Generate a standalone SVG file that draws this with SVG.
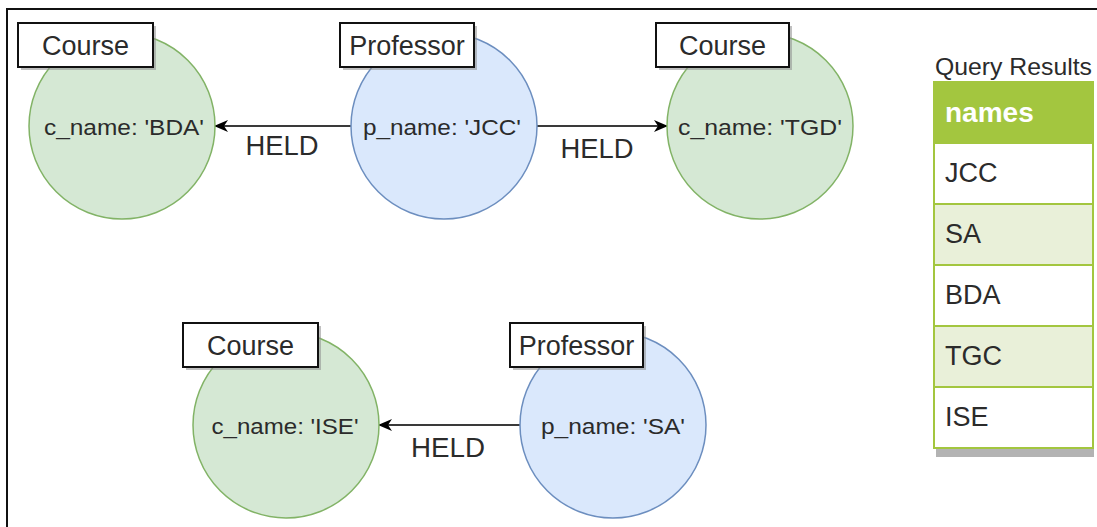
<svg xmlns="http://www.w3.org/2000/svg" width="1097" height="527" viewBox="0 0 1097 527">
  <style>
    text { font-family: "Liberation Sans", Arial, sans-serif; fill: #2b2b2b; }
    .course { fill: #d5e8d4; stroke: #82b366; stroke-width: 1.5; }
    .prof { fill: #dae8fc; stroke: #6c8ebf; stroke-width: 1.5; }
    .tag { fill: #ffffff; stroke: #111; stroke-width: 2; }
    .tagshadow { fill: #8c8c8c; opacity: 0.55; }
    .tagtext { font-size: 27px; text-anchor: middle; }
    .prop { font-size: 22px; text-anchor: middle; }
    .rel { font-size: 27px; text-anchor: middle; }
    .edge { stroke: #3a3a3a; stroke-width: 2.2; fill: none; marker-end: url(#arrow); }
    .cell { stroke: #a3c63f; stroke-width: 2; }
    .rowtext { font-size: 27px; }
  </style>
  <defs>
    <marker id="arrow" viewBox="0 0 14 12" refX="13" refY="6" markerWidth="14" markerHeight="12" markerUnits="userSpaceOnUse" orient="auto">
      <path d="M0,0 L14,6 L0,12 L4,6 Z" fill="#000"/>
    </marker>
  </defs>

  <rect width="1097" height="527" fill="#ffffff"/>
  <!-- outer frame -->
  <path d="M7,527 L7,9 L1097,9" fill="none" stroke="#111" stroke-width="2"/>

  <!-- connectors -->
  <g id="edges">
    <line class="edge" x1="351" y1="126" x2="215" y2="126"/>
    <text class="rel" x="282" y="155" textLength="73" lengthAdjust="spacingAndGlyphs">HELD</text>
    <line class="edge" x1="537" y1="126" x2="667" y2="126"/>
    <text class="rel" x="597" y="158" textLength="73" lengthAdjust="spacingAndGlyphs">HELD</text>
    <line class="edge" x1="520" y1="425" x2="379" y2="425"/>
    <text class="rel" x="448" y="457" textLength="74" lengthAdjust="spacingAndGlyphs">HELD</text>
  </g>

  <g id="course-bda">
    <circle class="course" cx="122" cy="126" r="93"/>
    <rect class="tagshadow" x="21" y="26" width="135" height="44"/>
    <rect class="tag" x="18" y="23" width="135" height="44"/>
    <text class="tagtext" x="85.5" y="55">Course</text>
    <text class="prop" x="124" y="135" textLength="160" lengthAdjust="spacingAndGlyphs">c_name: 'BDA'</text>
  </g>

  <g id="professor-jcc">
    <circle class="prof" cx="444" cy="126" r="93"/>
    <rect class="tagshadow" x="343" y="26" width="134" height="44"/>
    <rect class="tag" x="340" y="23" width="134" height="44"/>
    <text class="tagtext" x="407" y="55">Professor</text>
    <text class="prop" x="442" y="135" textLength="158" lengthAdjust="spacingAndGlyphs">p_name: 'JCC'</text>
  </g>

  <g id="course-tgd">
    <circle class="course" cx="760" cy="126" r="93"/>
    <rect class="tagshadow" x="659" y="26" width="133" height="44"/>
    <rect class="tag" x="656" y="23" width="133" height="44"/>
    <text class="tagtext" x="722.5" y="55">Course</text>
    <text class="prop" x="760" y="135" textLength="164" lengthAdjust="spacingAndGlyphs">c_name: 'TGD'</text>
  </g>

  <g id="course-ise">
    <circle class="course" cx="286" cy="425" r="93"/>
    <rect class="tagshadow" x="186" y="326" width="135" height="44"/>
    <rect class="tag" x="183" y="323" width="135" height="44"/>
    <text class="tagtext" x="250.5" y="355">Course</text>
    <text class="prop" x="285" y="434" textLength="147" lengthAdjust="spacingAndGlyphs">c_name: 'ISE'</text>
  </g>

  <g id="professor-sa">
    <circle class="prof" cx="613" cy="425" r="93"/>
    <rect class="tagshadow" x="513" y="326" width="133" height="44"/>
    <rect class="tag" x="510" y="323" width="133" height="44"/>
    <text class="tagtext" x="576.5" y="355">Professor</text>
    <text class="prop" x="613" y="434" textLength="144" lengthAdjust="spacingAndGlyphs">p_name: 'SA'</text>
  </g>

  <!-- result table -->
  <g id="query-results">
    <text x="935" y="75" font-size="24" textLength="157" lengthAdjust="spacingAndGlyphs">Query Results</text>
    <rect x="936" y="449" width="158" height="8" fill="#b3b3b3"/>
    <rect class="cell" x="934" y="82" width="159" height="61" fill="#a3c63f"/>
    <rect class="cell" x="934" y="143" width="159" height="61" fill="#ffffff"/>
    <rect class="cell" x="934" y="204" width="159" height="61" fill="#e9f0d9"/>
    <rect class="cell" x="934" y="265" width="159" height="61" fill="#ffffff"/>
    <rect class="cell" x="934" y="326" width="159" height="61" fill="#e9f0d9"/>
    <rect class="cell" x="934" y="387" width="159" height="61" fill="#ffffff"/>
    <text x="945" y="122" font-size="28" font-weight="bold" style="fill:#ffffff">names</text>
    <text class="rowtext" x="945" y="182">JCC</text>
    <text class="rowtext" x="945" y="243">SA</text>
    <text class="rowtext" x="945" y="304">BDA</text>
    <text class="rowtext" x="945" y="365">TGC</text>
    <text class="rowtext" x="945" y="426">ISE</text>
  </g>
</svg>
